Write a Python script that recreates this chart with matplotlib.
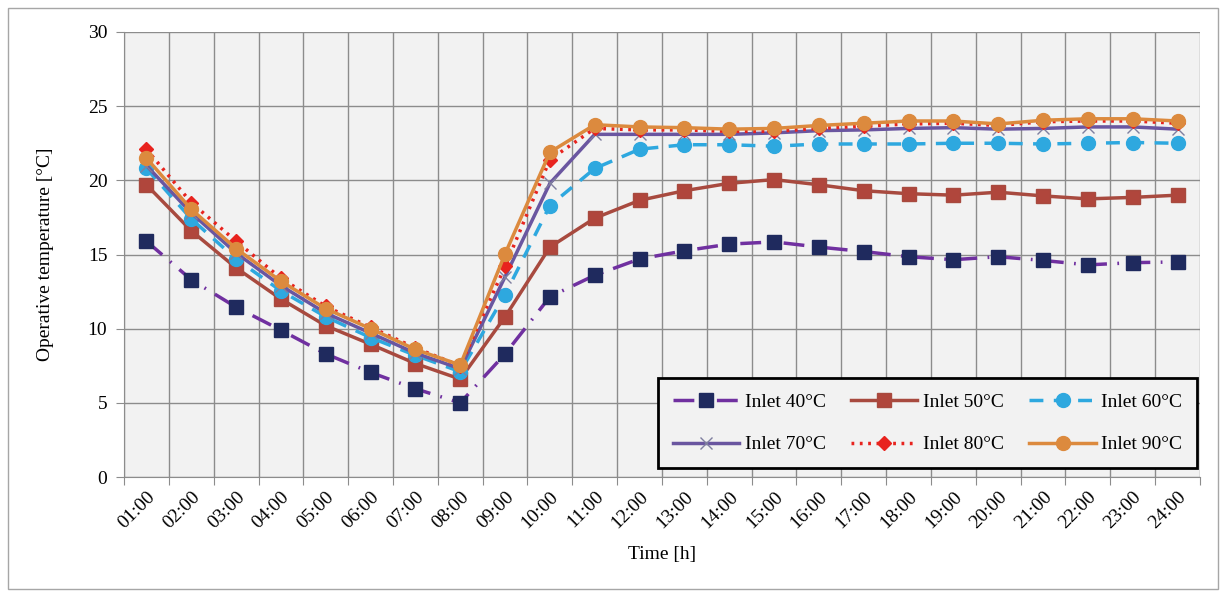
import numpy as np
import matplotlib.pyplot as plt
from matplotlib.patches import Rectangle

hours = ["%02d:00" % h for h in range(1, 25)]

inlet_40 = [15.9, 13.3, 11.45, 9.9, 8.3, 7.05, 5.95, 5.0, 8.3, 12.15, 13.6, 14.7,
            15.25, 15.7, 15.85, 15.5, 15.2, 14.85, 14.65, 14.85, 14.6, 14.3, 14.45, 14.5]
inlet_50 = [19.7, 16.6, 14.1, 12.0, 10.2, 8.95, 7.65, 6.6, 10.8, 15.5, 17.45, 18.65,
            19.3, 19.8, 20.05, 19.7, 19.3, 19.1, 19.0, 19.2, 18.95, 18.75, 18.85, 19.0]
inlet_60 = [20.8, 17.4, 14.7, 12.55, 10.8, 9.4, 8.2, 7.1, 12.3, 18.3, 20.8, 22.1,
            22.4, 22.4, 22.3, 22.45, 22.45, 22.45, 22.5, 22.5, 22.45, 22.5, 22.55, 22.5]
inlet_70 = [21.0, 17.8, 15.1, 12.9, 11.05, 9.7, 8.35, 7.3, 13.5, 19.8, 23.1, 23.1,
            23.1, 23.1, 23.2, 23.35, 23.4, 23.5, 23.55, 23.45, 23.5, 23.6, 23.6, 23.45]
inlet_80 = [22.1, 18.5, 15.9, 13.4, 11.5, 10.1, 8.7, 7.5, 14.2, 21.4, 23.5, 23.4,
            23.4, 23.3, 23.3, 23.5, 23.65, 23.8, 23.85, 23.7, 23.95, 24.0, 24.0, 23.85]
inlet_90 = [21.5, 18.05, 15.4, 13.2, 11.35, 10.0, 8.6, 7.55, 15.05, 21.9, 23.75, 23.6,
            23.55, 23.45, 23.5, 23.7, 23.85, 24.0, 24.0, 23.8, 24.05, 24.15, 24.15, 24.0]

plt.rcParams['font.family'] = ['Liberation Serif', 'DejaVu Serif']

fig = plt.figure(figsize=(12.27, 5.91), dpi=100)
fig.patches.append(Rectangle((8 / 1227, 2 / 591), 1210 / 1227, 581 / 591,
                             transform=fig.transFigure, fill=False,
                             edgecolor='#a6a6a6', lw=1))
ax = fig.add_axes([124 / 1227, 114 / 591, 1076 / 1227, 445 / 591])
ax.set_facecolor('#f2f2f2')

x = np.arange(24) + 0.5

h40, = ax.plot(x, inlet_40, color='#7030a0', lw=2.5, dashes=(6, 3, 0.5, 3),
               marker='s', ms=10, mfc='#1f2a5e', mec='#1f2a5e', label='Inlet 40°C', zorder=3)
h50, = ax.plot(x, inlet_50, color='#a84a3f', lw=2.5, marker='s', ms=10,
               mfc='#b0463c', mec='#a84a3f', label='Inlet 50°C', zorder=3)
h60, = ax.plot(x, inlet_60, color='#2ea8df', lw=2.5, dashes=(4, 3),
               marker='o', ms=10, mfc='#2ea8df', mec='#2ea8df', label='Inlet 60°C', zorder=3)
h70, = ax.plot(x, inlet_70, color='#6a56a0', lw=2.5, marker='x', ms=9, mew=1,
               mec='#7f7f9f', label='Inlet 70°C', zorder=4)
h80, = ax.plot(x, inlet_80, color='#e8231e', lw=2.5, dashes=(0.8, 1.6),
               marker='D', ms=7, mfc='#e8231e', mec='#e8231e', label='Inlet 80°C', zorder=4)
h90, = ax.plot(x, inlet_90, color='#dc8a3e', lw=2.5, marker='o', ms=10,
               mfc='#dc8a3e', mec='#dc8a3e', label='Inlet 90°C', zorder=5)

ax.set_xlim(0, 24)
ax.set_ylim(0, 30)
ax.set_yticks(np.arange(0, 31, 5))
ax.set_xticks(np.arange(0, 25))
ax.set_xticklabels([])
ax.set_xticks(x, minor=True)
ax.set_xticklabels(hours, minor=True, rotation=45, ha='right', va='top',
                   rotation_mode='anchor', fontsize=14)
ax.tick_params(axis='x', which='minor', length=0, pad=8)
ax.tick_params(axis='x', which='major', length=6, color='#8c8c8c')
ax.tick_params(axis='y', length=6, color='#8c8c8c', labelsize=14, pad=6)
ax.grid(True, which='major', color='#8c8c8c', lw=1)
ax.set_axisbelow(True)
for s in ['top', 'right']:
    ax.spines[s].set_visible(False)
for s in ['left', 'bottom']:
    ax.spines[s].set_color('#8c8c8c')

ax.set_xlabel('Time [h]', fontsize=14, labelpad=10)
ax.set_ylabel('Operative temperature [°C]', fontsize=14, labelpad=24)

# legend reads row-wise like the original: 40 50 60 / 70 80 90
handles = [h40, h70, h50, h80, h60, h90]
leg = ax.legend(handles=handles, labels=[h.get_label() for h in handles],
                ncol=3, loc='lower right', bbox_to_anchor=(1197 / 1227, 123 / 591),
                bbox_transform=fig.transFigure, borderaxespad=0, fontsize=14,
                frameon=True, fancybox=False, edgecolor='black', facecolor='#f2f2f2',
                framealpha=1, handlelength=3.4, columnspacing=1.3,
                handletextpad=0.3, labelspacing=1.3, borderpad=0.75)
leg.get_frame().set_linewidth(2)

fig.savefig('out.png', dpi=100)
